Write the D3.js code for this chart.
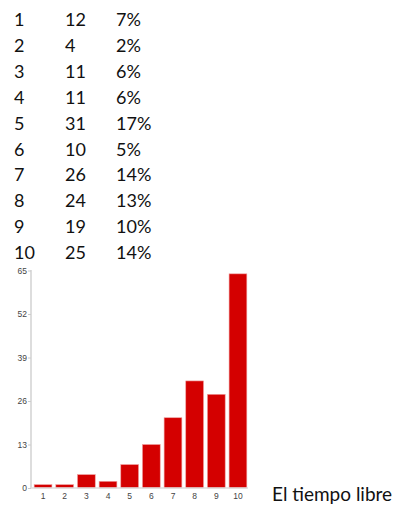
<!DOCTYPE html>
<html><head><meta charset="utf-8">
<script src="https://cdn.jsdelivr.net/npm/d3@7"></script>
<style>body{margin:0;background:#fff;}svg{display:block;}</style>
</head><body>
<svg id="c" width="399" height="509"></svg>
<script>
const tableRows = ["1","2","3","4","5","6","7","8","9","10"];
const tableCounts = ["12","4","11","11","31","10","26","24","19","25"];
const tablePercents = ["7%","2%","6%","6%","17%","5%","14%","13%","10%","14%"];
const categories = ["1","2","3","4","5","6","7","8","9","10"];
const values = [1,1,4,2,7,13,21,32,28,64];
const yTicks = [0,13,26,39,52,65];
const caption = "El tiempo libre";

const svg = d3.select("#c");
const tf = "Lato, 'Open Sans', sans-serif";
const tg = svg.append("g");
tableRows.forEach((r,i)=>{
  const y = 26 + i*25.9;
  [[14,r],[65,tableCounts[i]],[116,tablePercents[i]]].forEach(([x,t])=>{
    tg.append("text").attr("x",x).attr("y",y).attr("font-family",tf).attr("font-size",18).attr("fill","#111").text(t);
  });
});

const x = d3.scaleBand().domain(categories).range([32,249]).paddingInner(0.18).paddingOuter(0.1);
const y = d3.scaleLinear().domain([0,65]).range([488,270.5]);

svg.append("g").selectAll("rect").data(values).join("rect")
  .attr("x",(d,i)=>x(categories[i])).attr("width",x.bandwidth())
  .attr("y",d=>y(d)).attr("height",d=>y(0)-y(d))
  .attr("fill","#d40000").attr("stroke","#f0a0a0").attr("stroke-width",0.6);

const ya = svg.append("g").attr("transform","translate(31,0)")
  .call(d3.axisLeft(y).tickValues(yTicks).tickSize(3).tickPadding(1));
ya.select(".domain").attr("stroke","#ddd").attr("stroke-width",2).attr("d","M0,270V488");
ya.selectAll(".tick line").attr("stroke","#ccc");
ya.selectAll("text").attr("font-family","Arial, 'Liberation Sans'").attr("font-size",8.5).attr("fill","#444");

const xa = svg.append("g").attr("transform","translate(0,488)")
  .call(d3.axisBottom(x).tickSize(0).tickPadding(5));
xa.select(".domain").attr("stroke","#ddd").attr("stroke-width",1.5).attr("d","M31,0H248");
xa.selectAll("text").attr("font-family","Arial, 'Liberation Sans'").attr("font-size",8.5).attr("fill","#444");

svg.append("text").attr("x",272).attr("y",500.5).attr("font-family",tf).attr("font-size",19).attr("fill","#111").text(caption);
</script>
</body></html>
